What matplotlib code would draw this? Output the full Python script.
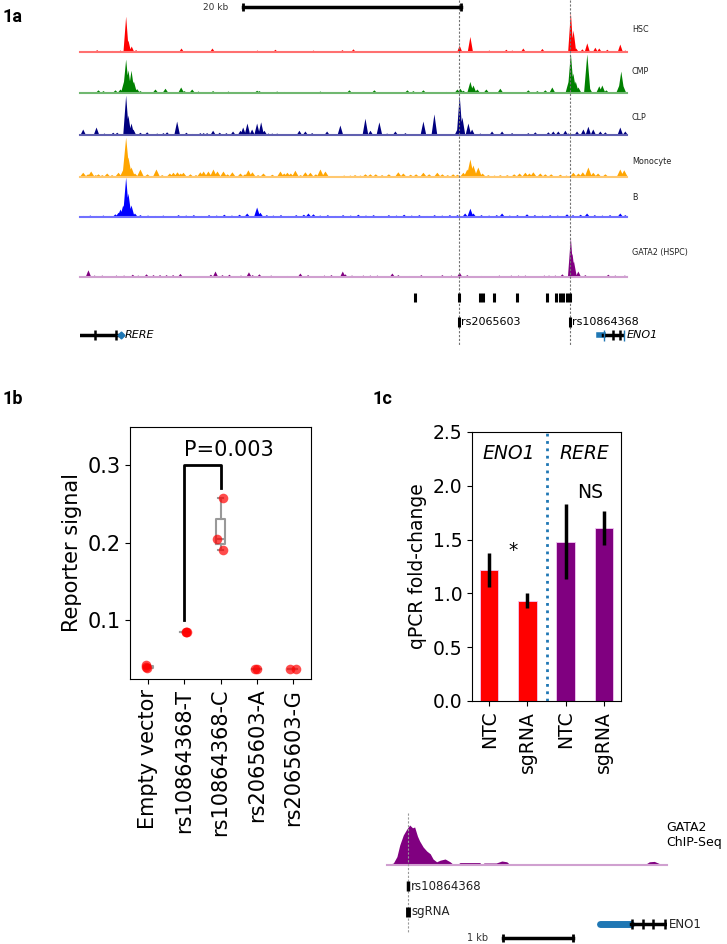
import matplotlib.pyplot as plt
import numpy as np

# ---------------- 1a: chromatin tracks, positions in kb from window start ----------------
window_kb = 50.2
track_names = ['HSC', 'CMP', 'CLP', 'Monocyte', 'B', 'GATA2 (HSPC)']
track_colors = ['#ff0000', '#008000', '#00007f', '#ffa500', '#0000ff', '#800080']
track_base_colors = ['#ff7070', '#70b870', '#6060b0', '#ffc870', '#7070ff', '#d0a0d0']
peak_halfwidth = [0.25, 0.3, 0.27, 0.35, 0.3, 0.27]

hsc_peaks = [(1.53, 0.06), (2.9, 0.04), (3.67, 0.05), (4.19, 0.9), (4.4, 0.3), (4.7, 0.15), (5.1, 0.06),
             (9.27, 0.1), (9.79, 0.04), (12.11, 0.1), (13.21, 0.03), (14.04, 0.04), (15.32, 0.04),
             (16.24, 0.05), (17.89, 0.07), (18.35, 0.03), (21.38, 0.05), (24.04, 0.06), (25.05, 0.08),
             (26.15, 0.03), (31.0, 0.04), (33.03, 0.03), (34.8, 0.17), (35.78, 0.39), (37.52, 0.05),
             (39.08, 0.07), (39.63, 0.05), (40.64, 0.1), (41.56, 0.03), (42.39, 0.09), (45.0, 1.0),
             (45.25, 0.55), (45.5, 0.1), (46.06, 0.08), (46.51, 0.23), (47.25, 0.12), (47.61, 0.1),
             (48.35, 0.07), (49.54, 0.2), (50.0, 0.05)]
cmp_peaks = [(1.65, 0.08), (2.11, 0.06), (3.21, 0.08), (3.67, 0.1), (4.0, 0.3), (4.19, 0.85), (4.4, 0.58),
             (4.68, 0.57), (4.9, 0.3), (5.2, 0.11), (5.5, 0.06), (6.88, 0.1), (7.8, 0.12), (9.24, 0.15),
             (9.54, 0.06), (10.25, 0.1), (10.83, 0.05), (12.17, 0.06), (13.58, 0.05), (14.83, 0.04),
             (16.21, 0.07), (16.42, 0.06), (18.05, 0.05), (18.72, 0.04), (22.02, 0.05), (24.68, 0.08),
             (26.97, 0.08), (28.72, 0.03), (30.0, 0.08), (30.55, 0.06), (31.47, 0.08), (32.11, 0.03),
             (32.84, 0.03), (33.58, 0.04), (34.59, 0.1), (34.86, 0.12), (35.14, 0.07), (35.78, 0.29),
             (36.06, 0.2), (36.42, 0.1), (37.25, 0.1), (38.53, 0.12), (41.1, 0.08), (41.93, 0.06),
             (42.66, 0.08), (43.3, 0.15), (44.8, 0.3), (45.0, 1.0), (45.23, 0.5), (45.45, 0.3),
             (45.7, 0.15), (46.51, 0.98), (46.7, 0.15), (47.61, 0.18), (47.89, 0.2), (48.26, 0.08),
             (49.45, 0.2), (49.63, 0.55), (49.8, 0.2)]
clp_peaks = [(0.25, 0.15), (1.47, 0.2), (2.2, 0.05), (3.0, 0.07), (3.37, 0.07), (4.19, 1.0), (4.4, 0.5),
             (4.68, 0.3), (4.86, 0.15), (5.5, 0.07), (6.12, 0.08), (7.04, 0.05), (7.61, 0.06), (7.95, 0.08),
             (8.87, 0.35), (9.72, 0.07), (10.25, 0.04), (11.0, 0.06), (11.3, 0.06), (11.62, 0.06),
             (12.17, 0.12), (12.78, 0.07), (13.39, 0.06), (14.0, 0.1), (14.68, 0.12), (14.93, 0.2),
             (15.32, 0.3), (15.75, 0.15), (16.21, 0.3), (16.58, 0.33), (16.88, 0.12), (17.25, 0.05),
             (17.6, 0.05), (18.05, 0.05), (20.09, 0.12), (20.64, 0.1), (21.26, 0.06), (22.63, 0.1),
             (23.85, 0.25), (26.15, 0.42), (26.61, 0.12), (27.43, 0.33), (28.14, 0.05), (28.9, 0.1),
             (29.82, 0.06), (31.47, 0.35), (32.48, 0.53), (34.59, 0.15), (34.8, 1.0), (35.05, 0.45),
             (35.6, 0.3), (35.94, 0.15), (36.7, 0.05), (37.31, 0.04), (37.77, 0.1), (38.69, 0.1),
             (39.61, 0.06), (41.1, 0.06), (41.74, 0.08), (42.94, 0.08), (43.39, 0.1), (43.85, 0.1),
             (44.5, 0.12), (44.77, 0.05), (45.57, 0.1), (46.15, 0.15), (46.61, 0.22), (47.06, 0.15),
             (47.71, 0.1), (48.17, 0.08), (49.54, 0.2), (50.0, 0.1)]
mono_peaks = [(0.25, 0.12), (0.7, 0.08), (0.98, 0.15), (1.4, 0.06), (1.65, 0.08), (2.0, 0.06), (2.45, 0.1),
              (2.9, 0.06), (3.49, 0.12), (3.94, 0.2), (4.19, 1.0), (4.4, 0.5), (4.68, 0.25), (5.0, 0.1),
              (5.5, 0.2), (6.15, 0.08), (6.97, 0.2), (7.5, 0.06), (8.2, 0.1), (8.53, 0.12), (8.9, 0.13),
              (9.2, 0.1), (9.45, 0.12), (10.09, 0.08), (10.6, 0.06), (11.0, 0.13), (11.3, 0.15),
              (11.74, 0.15), (12.2, 0.2), (12.57, 0.15), (13.12, 0.15), (13.5, 0.08), (13.94, 0.13),
              (14.68, 0.1), (15.1, 0.08), (15.41, 0.18), (15.78, 0.13), (16.3, 0.06), (16.79, 0.1),
              (17.61, 0.07), (18.35, 0.15), (18.7, 0.1), (18.99, 0.12), (19.3, 0.1), (19.72, 0.17),
              (20.2, 0.06), (20.64, 0.13), (21.1, 0.12), (21.6, 0.08), (22.02, 0.2), (22.48, 0.15),
              (23.21, 0.03), (24.2, 0.05), (24.77, 0.05), (25.2, 0.06), (25.69, 0.05), (26.15, 0.08),
              (26.6, 0.08), (27.1, 0.08), (27.68, 0.06), (28.3, 0.08), (29.17, 0.13), (29.63, 0.1),
              (30.3, 0.07), (30.8, 0.08), (31.47, 0.12), (32.0, 0.08), (32.75, 0.12), (33.21, 0.08),
              (33.7, 0.06), (34.2, 0.08), (34.6, 0.07), (35.14, 0.12), (35.5, 0.2), (35.78, 0.45),
              (36.06, 0.3), (36.51, 0.25), (36.9, 0.1), (37.43, 0.06), (38.0, 0.05), (38.53, 0.06),
              (39.17, 0.06), (39.8, 0.08), (40.3, 0.1), (40.83, 0.12), (41.2, 0.1), (41.56, 0.13),
              (42.2, 0.1), (42.66, 0.08), (43.2, 0.08), (44.04, 0.07), (44.6, 0.05), (45.23, 0.12),
              (45.7, 0.1), (46.1, 0.13), (46.61, 0.25), (47.06, 0.12), (47.5, 0.1), (48.17, 0.08),
              (48.8, 0.04), (49.54, 0.2), (49.9, 0.18)]
b_peaks = [(0.3, 0.04), (0.9, 0.05), (1.5, 0.04), (2.1, 0.05), (2.7, 0.04), (3.2, 0.08), (3.49, 0.12),
           (3.67, 0.2), (3.92, 0.3), (4.19, 1.0), (4.4, 0.6), (4.68, 0.3), (5.0, 0.1), (5.5, 0.06),
           (6.2, 0.05), (6.9, 0.04), (7.6, 0.05), (8.3, 0.04), (9.0, 0.06), (9.7, 0.05), (10.4, 0.06),
           (11.1, 0.04), (11.8, 0.06), (12.5, 0.05), (13.2, 0.07), (13.9, 0.05), (14.6, 0.07), (15.3, 0.1),
           (16.21, 0.25), (16.51, 0.12), (17.1, 0.06), (17.7, 0.05), (18.4, 0.06), (19.1, 0.04),
           (19.8, 0.06), (20.5, 0.07), (20.92, 0.1), (21.38, 0.08), (22.0, 0.05), (22.7, 0.06),
           (23.4, 0.04), (24.1, 0.06), (24.8, 0.05), (25.5, 0.07), (26.2, 0.05), (26.9, 0.06),
           (27.6, 0.04), (28.3, 0.06), (29.0, 0.05), (29.7, 0.07), (30.4, 0.05), (31.1, 0.06),
           (31.8, 0.04), (32.5, 0.06), (33.2, 0.05), (33.9, 0.06), (34.6, 0.06), (35.3, 0.1),
           (35.78, 0.22), (36.06, 0.1), (36.8, 0.06), (37.5, 0.05), (38.2, 0.06), (38.69, 0.1),
           (39.4, 0.05), (40.1, 0.06), (40.98, 0.08), (41.7, 0.06), (42.4, 0.05), (43.1, 0.06),
           (43.8, 0.05), (44.65, 0.08), (45.2, 0.06), (45.9, 0.07), (46.49, 0.1), (47.2, 0.06),
           (47.9, 0.05), (48.6, 0.06), (49.54, 0.1), (50.0, 0.06)]
gata2_peaks = [(0.73, 0.18), (1.3, 0.05), (2.0, 0.05), (3.3, 0.05), (4.0, 0.05), (4.8, 0.07), (5.3, 0.05),
               (6.06, 0.08), (6.7, 0.06), (7.3, 0.06), (7.9, 0.06), (8.5, 0.06), (9.17, 0.09),
               (10.92, 0.04), (11.97, 0.07), (12.39, 0.15), (13.03, 0.06), (13.67, 0.07), (14.73, 0.05),
               (15.46, 0.13), (15.8, 0.06), (16.42, 0.08), (17.5, 0.05), (18.99, 0.04), (20.18, 0.1),
               (20.89, 0.06), (22.39, 0.05), (23.03, 0.06), (24.07, 0.15), (24.3, 0.08), (24.92, 0.05),
               (25.96, 0.05), (26.6, 0.05), (27.25, 0.05), (28.62, 0.1), (29.17, 0.06), (30.23, 0.04),
               (31.28, 0.06), (33.21, 0.06), (34.04, 0.05), (34.8, 0.12), (35.5, 0.06), (36.79, 0.04),
               (38.44, 0.05), (39.54, 0.05), (40.2, 0.05), (40.83, 0.05), (42.57, 0.05), (43.0, 0.05),
               (43.58, 0.05), (44.22, 0.08), (45.0, 1.0), (45.15, 0.6), (45.29, 0.4), (45.69, 0.15),
               (46.33, 0.06), (48.44, 0.07), (49.08, 0.05), (49.96, 0.05)]
track_peaks = [hsc_peaks, cmp_peaks, clp_peaks, mono_peaks, b_peaks, gata2_peaks]

snp_pos = [30.74, 34.8, 36.68, 37.02, 38.0, 40.12, 42.84, 43.69, 44.02, 44.36, 44.66, 45.0]
lead_snps = ['rs2065603', 'rs10864368']
lead_snp_pos = [34.8, 45.0]

# ---------------- 1b: reporter assay ----------------
reporter_groups = ['Empty vector', 'rs10864368-T', 'rs10864368-C', 'rs2065603-A', 'rs2065603-G']
reporter_values = [[0.042, 0.039, 0.038], [0.085, 0.0845, 0.085], [0.257, 0.204, 0.191],
                   [0.037, 0.037], [0.037, 0.037]]
reporter_jitter = [[-0.06, -0.05, -0.04], [0.04, 0.06, 0.07], [0.08, -0.09, 0.06], [-0.05, 0.0], [-0.08, 0.08]]

# ---------------- 1c: qPCR ----------------
qpcr_labels = ['NTC', 'sgRNA', 'NTC', 'sgRNA']
qpcr_mean = [1.22, 0.93, 1.48, 1.61]
qpcr_err = [0.16, 0.07, 0.35, 0.16]
qpcr_colors = ['red', 'red', 'purple', 'purple']

# ---------------- inset: GATA2 ChIP-seq near ENO1 (kb) ----------------
chip_kb = [0.0, 0.09, 0.14, 0.18, 0.23, 0.28, 0.32, 0.36, 0.39, 0.43, 0.46, 0.51, 0.56, 0.61, 0.65, 0.7,
           0.75, 0.82, 0.89, 0.93, 0.98, 1.03, 1.17, 1.31, 1.33, 1.37, 1.5, 1.54, 1.62, 1.69, 1.74,
           3.63, 3.7, 3.77, 3.85, 3.95]
chip_val = [0.0, 0.05, 0.21, 0.5, 0.75, 0.9, 1.0, 0.93, 0.95, 0.72, 0.6, 0.45, 0.35, 0.28, 0.15, 0.08,
            0.12, 0.15, 0.08, 0.02, 0.0, 0.06, 0.06, 0.06, 0.01, 0.05, 0.05, 0.05, 0.1, 0.08, 0.0,
            0.0, 0.08, 0.09, 0.03, 0.0]
inset_kb = 3.95

W, H = 727, 944
fig = plt.figure(figsize=(W / 100, H / 100), dpi=100)


def px_axes(x0, y0, x1, y1):
    return fig.add_axes([x0 / W, 1 - y1 / H, (x1 - x0) / W, (y1 - y0) / H])


# tracks
baselines = [52, 93, 135, 177, 217, 277]
label_y = [29, 72, 117, 162, 198, 253]
grid = np.linspace(0, window_kb, 5000)
for name, peaks, col, bcol, hw, base, ly in zip(track_names, track_peaks, track_colors, track_base_colors,
                                                 peak_halfwidth, baselines, label_y):
    ax = px_axes(80, base - 40, 627, base)
    sig = np.zeros_like(grid)
    for p, h in peaks:
        sig = np.maximum(sig, h * np.clip(1 - np.abs(grid - p) / hw, 0, None))
    ax.fill_between(grid, 0, sig, color=col, lw=0)
    ax.plot([0, window_kb], [0, 0], color=bcol, lw=1.5, clip_on=False)
    ax.set_xlim(0, window_kb)
    ax.set_ylim(0, 1)
    ax.axis('off')
    fig.text(632 / W, 1 - ly / H, name, fontsize=5.8, va='center', color='#222222')

ax_a = px_axes(80, 0, 627, 345)
ax_a.set_xlim(0, window_kb)
ax_a.set_ylim(345, 0)
ax_a.axis('off')
ax_a.vlines(lead_snp_pos, 0, 345, colors='0.45', linestyles=(0, (2, 1.5)), lw=0.8)
ax_a.vlines(snp_pos, 293, 302, colors='k', lw=2.2)
for name, p in zip(lead_snps, lead_snp_pos):
    ax_a.vlines(p, 317, 327, colors='k', lw=2.2)
    ax_a.text(p + 0.15, 322, name, fontsize=8, va='center')
# scale bar
ax_a.plot([15.0, 35.0], [7, 7], color='k', lw=2.5)
ax_a.vlines([15.0, 35.0], 3, 11, colors='k', lw=2)
ax_a.text(13.6, 7, '20 kb', fontsize=6.5, ha='right', va='center', color='#333333')
# genes
ax_a.plot([0, 3.76], [335, 335], color='k', lw=2.5)
ax_a.vlines([1.38, 3.3], 330, 340, colors='k', lw=1.8)
ax_a.plot(3.76, 335, marker='D', color='#1f77b4', ms=3.5)
ax_a.text(4.1, 335, 'RERE', fontsize=8, style='italic', va='center')
ax_a.plot([47.6, 48.0], [335, 335], color='#1f77b4', lw=4)
ax_a.plot([48.0, 49.76], [335, 335], color='k', lw=2.5)
ax_a.vlines([48.9, 49.54], 330, 340, colors='k', lw=1.8)
ax_a.vlines([48.05, 49.97], 330, 341, colors='#1f77b4', lw=1)
ax_a.text(50.15, 335, 'ENO1', fontsize=8, style='italic', va='center')

# ---------------- 1b ----------------
ax_b = px_axes(130, 427, 311, 679)
grey = dict(color='0.6', lw=1.5)
ax_b.boxplot(reporter_values, positions=range(len(reporter_groups)), widths=0.25, showfliers=False,
             boxprops=grey, whiskerprops=grey, capprops=grey, medianprops=grey)
for i, (vals, jit) in enumerate(zip(reporter_values, reporter_jitter)):
    ax_b.scatter([i + j for j in jit], vals, s=48, color='red', alpha=0.7, lw=0, zorder=3)
ax_b.plot([1, 1, 2, 2], [0.1, 0.3, 0.3, 0.27], color='k', lw=2)
ax_b.text(1, 0.307, 'P=0.003', fontsize=15, ha='left', va='bottom')
ax_b.set_xlim(-0.5, 4.5)
ax_b.set_ylim(0.024, 0.349)
ax_b.set_yticks([0.1, 0.2, 0.3])
ax_b.set_xticks(range(len(reporter_groups)))
ax_b.set_xticklabels(reporter_groups, rotation=90)
ax_b.tick_params(labelsize=15)
ax_b.set_ylabel('Reporter signal', fontsize=15)

# ---------------- 1c ----------------
ax_c = px_axes(472, 432, 621, 701)
ax_c.bar(range(4), qpcr_mean, width=0.48, color=qpcr_colors, edgecolor='#f3c8f3', lw=0.6,
         yerr=qpcr_err, error_kw=dict(ecolor='k', elinewidth=2.5, capsize=0))
ax_c.axvline(1.5, color='#1f77b4', ls=':', lw=2)
ax_c.text(0.5, 2.3, 'ENO1', fontsize=13.5, style='italic', ha='center', va='center')
ax_c.text(2.5, 2.3, 'RERE', fontsize=13.5, style='italic', ha='center', va='center')
ax_c.text(0.62, 1.4, '*', fontsize=13.5, ha='center', va='center')
ax_c.text(2.64, 1.94, 'NS', fontsize=13.5, ha='center', va='center')
ax_c.set_xlim(-0.45, 3.45)
ax_c.set_ylim(0, 2.5)
ax_c.set_yticks(np.arange(0, 2.51, 0.5))
ax_c.set_xticks(range(4))
ax_c.set_xticklabels(qpcr_labels, rotation=90)
ax_c.tick_params(labelsize=13.5)
ax_c.set_ylabel('qPCR fold-change', fontsize=13.5)

# ---------------- inset ChIP-seq ----------------
ax_s = px_axes(387, 825, 667, 865)
ax_s.fill_between(chip_kb, 0, chip_val, color='#800080', lw=0)
ax_s.plot([0, inset_kb], [0, 0], color='#d0a0d0', lw=1.5, clip_on=False)
ax_s.set_xlim(0, inset_kb)
ax_s.set_ylim(0, 1)
ax_s.axis('off')

ax_i = px_axes(387, 810, 667, 944)
ax_i.set_xlim(0, inset_kb)
ax_i.set_ylim(944, 810)
ax_i.axis('off')
ax_i.vlines(0.3, 813, 933, colors='0.6', linestyles=(0, (2, 1.5)), lw=0.8)
ax_i.vlines(0.3, 881, 891, colors='k', lw=2.5)
ax_i.text(0.33, 886, 'rs10864368', fontsize=8.5, va='center', color='#222222')
ax_i.vlines(0.3, 907, 917, colors='k', lw=3.5)
ax_i.text(0.34, 912, 'sgRNA', fontsize=8.5, va='center', color='#222222')
ax_i.plot([3.01, 3.44], [924, 924], color='#1f77b4', lw=5, solid_capstyle='round')
ax_i.plot([3.44, 3.93], [924, 924], color='k', lw=2.5)
ax_i.vlines([3.46, 3.61, 3.75, 3.92], 919, 929, colors='k', lw=1.8)
ax_i.text(3.97, 924, 'ENO1', fontsize=8.5, va='center', color='#222222')
ax_i.plot([1.63, 2.63], [938, 938], color='k', lw=2.5)
ax_i.vlines([1.63, 2.63], 934, 942, colors='k', lw=2)
ax_i.text(1.42, 938, '1 kb', fontsize=7, ha='right', va='center', color='#333333')
fig.text(666 / W, 1 - 835 / H, 'GATA2\nChIP-Seq', fontsize=9, va='center', linespacing=1.15)

# panel letters
for lab, x, y in [('1a', 2, 17), ('1b', 2, 399), ('1c', 373, 399)]:
    fig.text(x / W, 1 - y / H, lab, fontsize=13, fontweight='bold', family='Roboto', va='center')

fig.savefig('out.png', dpi=100)
